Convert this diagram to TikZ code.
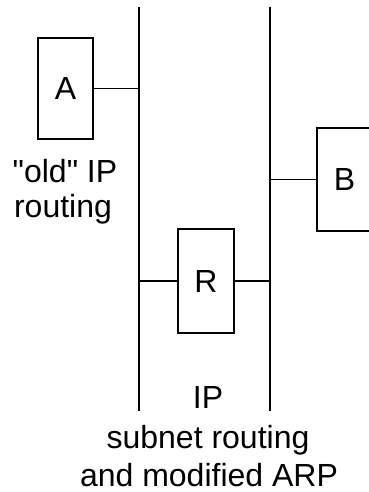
\documentclass[tikz,border=0pt]{standalone}
\usepackage{fontspec}
\setmainfont{Liberation Sans}[Ligatures=TeXOff]
\begin{document}
\begin{tikzpicture}[x=1pt,y=-1pt,
  line width=1.7pt,
  every node/.style={font=\fontsize{32}{36}\selectfont, inner sep=0pt},
  hostbox/.style={draw, rectangle, line width=1.7pt},
  lbl/.style={anchor=base}]
\useasboundingbox (0,0) rectangle (368,492);
% buses
\coordinate (t1) at (139,7);
\coordinate (b1) at (139,411);
\coordinate (t2) at (270,7);
\coordinate (b2) at (270,411);
\draw (t1) -- (b1);
\draw (t2) -- (b2);
% hosts
\node[hostbox, minimum width=55pt, minimum height=101pt] (A) at (65.5,88.5) {A};
\node[hostbox, minimum width=55pt, minimum height=103pt] (B) at (344.5,179.5) {B};
\node[hostbox, minimum width=56pt, minimum height=104pt] (R) at (206,281) {R};
% connectors
\draw (A.east) -- (A.east -| t1);
\draw (B.west) -- (B.west -| t2);
\draw (R.west) -- (R.west -| t1);
\draw (R.east) -- (R.east -| t2);
% labels
\node[lbl] (l1) at (65,182) {"old" IP};
\node[lbl] (l2) at (63,217) {routing};
\node[lbl] (l3) at (208,408) {IP};
\node[lbl] (l4) at (208,448) {subnet routing};
\node[lbl] (l5) at (209,486) {and modified ARP};
\end{tikzpicture}
\end{document}
